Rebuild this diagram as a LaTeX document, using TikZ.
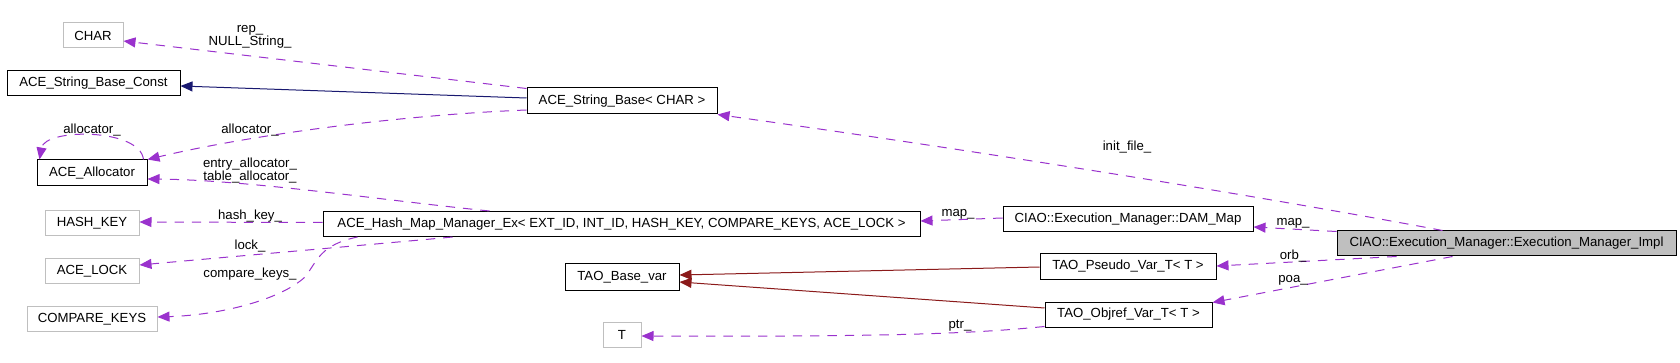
\documentclass[tikz,border=0pt]{standalone}
\usepackage{fontspec}
\setmainfont{Liberation Sans}
\usetikzlibrary{arrows.meta,calc}
\definecolor{dxblue}{HTML}{191970}
\definecolor{dxred}{HTML}{8B1A1A}
\definecolor{dxpurple}{HTML}{9A32CD}
\definecolor{dxgray}{HTML}{BFBFBF}
\begin{document}
\begin{tikzpicture}[x=0.75pt,y=-0.75pt,
  font=\fontsize{9.9}{9.75}\selectfont,
  cls/.style={draw=black, line width=0.75pt, minimum height=18.75pt, inner sep=0pt},
  ext/.style={cls, draw=dxgray},
  cur/.style={cls, fill=dxgray},
  tip/.style={-{Triangle[length=9pt,width=7.5pt]}},
  inh/.style={draw=dxblue, line width=0.75pt, tip},
  inhp/.style={draw=dxred, line width=0.75pt, tip},
  use/.style={draw=dxpurple, line width=0.75pt, dash pattern=on 7pt off 6pt, tip},
  lbl/.style={inner sep=0pt, align=center}]
\useasboundingbox (0,0) rectangle (1680,363);
% nodes
\node[ext, minimum width=45pt] (char) at (93,35.5) {CHAR};
\node[cls, minimum width=129.75pt] (const) at (93.5,83.5) {ACE\_String\_Base\_Const};
\node[cls, minimum width=82.5pt, minimum height=19.5pt] (alloc) at (92,173) {ACE\_Allocator};
\node[ext, minimum width=70.5pt] (hkey) at (92,223) {HASH\_KEY};
\node[ext, minimum width=70.5pt] (lock) at (92,271) {ACE\_LOCK};
\node[ext, minimum width=97.5pt] (ckeys) at (92,319) {COMPARE\_KEYS};
\node[cls, minimum width=142.5pt, minimum height=19.5pt] (sb) at (622,101) {ACE\_String\_Base< CHAR >};
\node[cls, minimum width=447.75pt] (hm) at (621.5,224) {ACE\_Hash\_Map\_Manager\_Ex< EXT\_ID, INT\_ID, HASH\_KEY, COMPARE\_KEYS, ACE\_LOCK >};
\node[cls, minimum width=85.5pt, minimum height=19.5pt] (bv) at (622,277) {TAO\_Base\_var};
\node[ext, minimum width=28.5pt] (t) at (622,334.5) {T};
\node[cls, minimum width=187.5pt] (dam) at (1128,219) {CIAO::Execution\_Manager::DAM\_Map};
\node[cls, minimum width=132pt] (pv) at (1128,266.5) {TAO\_Pseudo\_Var\_T< T >};
\node[cls, minimum width=125.25pt] (ov) at (1128.5,314.5) {TAO\_Objref\_Var\_T< T >};
\node[cur, minimum width=254.25pt] (impl) at (1506.5,243.5) {CIAO::Execution\_Manager::Execution\_Manager\_Impl};
% inheritance
\draw[inh] ($(sb.west)+(0,-3)$) -- ($(const.east)+(0,2.5)$);
\draw[inhp] ($(pv.west)+(0,0.5)$) -- ($(bv.east)+(0,-2)$);
\draw[inhp] ($(ov.west)+(0,-6.5)$) -- ($(bv.east)+(0,5)$);
% usage
\draw[use] ($(sb.north west)+(0,1)$) -- ($(char.east)+(0,5.5)$);
\node[lbl] (lrep) at (250,36.5) {rep\_\\NULL\_String\_};
\draw[use] ($(sb.west)+(0,9)$) .. controls (400,115) and (250,135) .. (alloc.north east);
\node[lbl] (lall1) at (250,130) {allocator\_};
\draw[use] ($(alloc.north east)+(-4,0)$) .. controls (140,128) and (45,128) .. ($(alloc.north west)+(3,0)$);
\node[lbl] (lall2) at (92,130) {allocator\_};
\draw[use] ($(hm.north west)+(167,0)$) .. controls (380,200) and (250,180) .. ($(alloc.east)+(0,6)$);
\node[lbl] (lentry) at (250,170.5) {entry\_allocator\_\\table\_allocator\_};
\draw[use] ($(hm.west)+(0,-1.5)$) -- ($(hkey.east)+(0,-1)$);
\node[lbl] (lhk) at (250,216) {hash\_key\_};
\draw[use] ($(hm.south west)+(130,0)$) .. controls (400,242) and (250,255) .. ($(lock.east)+(0,-6)$);
\node[lbl] (llock) at (250,246) {lock\_};
\draw[use] ($(hm.south west)+(35,0)$) .. controls (320,245) and (318,260) .. (305,277)
  .. controls (280,300) and (220,315) .. ($(ckeys.east)+(0,-2)$);
\node[lbl] (lck) at (250,274) {compare\_keys\_};
\draw[use] ($(dam.west)+(0,-1)$) -- ($(hm.east)+(0,-3)$);
\node[lbl] (lmap1) at (958,214) {map\_};
\draw[use] ($(impl.west)+(0,-12)$) -- ($(dam.east)+(0,8)$);
\node[lbl] (lmap2) at (1293,223) {map\_};
\draw[use] ($(impl.north west)+(106,0)$) .. controls (1200,185) and (900,140) .. (sb.south east);
\node[lbl] (linit) at (1127,147) {init\_file\_};
\draw[use] ($(impl.south west)+(60,0)$) -- ($(pv.east)+(0,-0.5)$);
\node[lbl] (lorb) at (1293,256) {orb\_};
\draw[use] ($(impl.south west)+(116,0)$) -- ($(ov.north east)+(0,1)$);
\node[lbl] (lpoa) at (1293,280) {poa\_};
\draw[use] ($(ov.south west)+(0,-1)$) .. controls (980,333) and (900,337) .. ($(t.east)+(0,1.5)$);
\node[lbl] (lptr) at (960,326) {ptr\_};
\end{tikzpicture}
\end{document}
